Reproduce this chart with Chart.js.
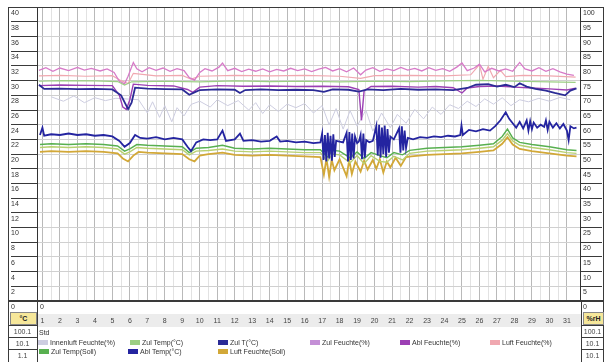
<!DOCTYPE html>
<html><head><meta charset="utf-8">
<script src="https://cdn.jsdelivr.net/npm/chart.js@4/dist/chart.umd.min.js"></script>
<style>
body{margin:0;background:#fff;font-family:"Liberation Sans",Arial,sans-serif;}
#wrap{position:relative;width:607px;height:362px;overflow:hidden;background:#fff}
.abs{position:absolute}
.ln{position:absolute;background:#3a3a3a}
.t{position:absolute;font-size:7px;color:#333;white-space:nowrap;line-height:8px}
.sw{position:absolute;height:5px}
.box{position:absolute;font-size:7px;color:#444;text-align:center;line-height:11px}
</style></head><body>
<div id="wrap">
 <div class="abs" style="left:37px;top:314px;width:544px;height:13px;background:#ececec"></div>
 <canvas id="c" width="607" height="362" class="abs" style="left:0;top:0"></canvas>
 <div id="ov"></div>
</div>
<script>
// ---------- DATA ----------
const dayTicks = [1,2,3,4,5,6,7,8,9,10,11,12,13,14,15,16,17,18,19,20,21,22,23,24,25,26,27,28,29,30,31];
const tempTicks = [0,2,4,6,8,10,12,14,16,18,20,22,24,26,28,30,32,34,36,38,40];
const rhTicks = [0,5,10,15,20,25,30,35,40,45,50,55,60,65,70,75,80,85,90,95,100];
const legendLabels = ["Innenluft Feuchte(%)","Zul Temp(°C)","Zul T(°C)","Zul Feuchte(%)","Abl Feuchte(%)","Luft Feuchte(%)","Zul Temp(Soll)","Abl Temp(°C)","Luft Feuchte(Soll)"];
const sideLabelsLeft = ["°C","100.1","10.1","1.1"];
const sideLabelsRight = ["%rH","100.1","10.1","10.1"];

const rhPink = [[0.8,78.5],[1.2,79.4],[1.6,78.2],[2.0,79.3],[2.5,78.4],[3.0,79.5],[3.4,78.6],[3.8,79.2],[4.3,78.3],[4.7,79.0],[5.1,77.8],[5.4,74.8],[5.7,73.9],[5.9,76.5],[6.2,81.2],[6.4,79.0],[6.7,78.0],[7.1,79.4],[7.5,78.5],[7.9,79.3],[8.3,78.2],[8.7,79.1],[9.1,78.4],[9.4,76.0],[9.7,75.2],[10.0,77.8],[10.3,79.1],[10.7,78.3],[11.1,79.6],[11.3,81.0],[11.6,78.4],[12.0,79.2],[12.4,78.1],[12.8,78.9],[13.2,78.2],[13.6,79.0],[14.0,78.0],[14.4,78.8],[14.8,78.3],[15.2,79.2],[15.6,78.4],[16.0,79.0],[16.4,78.1],[16.8,78.9],[17.2,79.5],[17.6,78.3],[18.0,79.1],[18.4,78.0],[18.8,79.3],[19.2,77.0],[19.5,78.6],[19.9,79.4],[20.3,78.2],[20.7,79.0],[21.1,78.4],[21.5,79.5],[21.9,78.6],[22.3,79.2],[22.7,78.3],[23.1,79.4],[23.5,78.5],[23.9,79.1],[24.3,78.2],[24.7,79.6],[25.0,81.0],[25.3,78.4],[25.7,79.3],[26.0,80.6],[26.3,78.0],[26.7,79.2],[27.1,78.3],[27.5,79.0],[27.9,78.2],[28.3,81.2],[28.6,79.0],[29.0,78.3],[29.4,79.4],[29.8,78.2],[30.2,79.1],[30.6,78.0],[31.0,77.2],[31.4,76.8]];
const rhSalmon = [[0.8,76.6],[2,76.8],[3.5,76.5],[5.0,76.7],[5.5,75.0],[5.9,74.0],[6.2,77.5],[7.5,76.6],[9,76.8],[9.5,75.5],[10,76.5],[12,76.8],[14,76.6],[16,76.8],[18,76.5],[19.2,75.8],[20,76.7],[22,76.8],[24,76.6],[25.5,77.0],[26.0,80.5],[26.2,75.5],[26.5,79.8],[26.8,76.0],[27.2,78.5],[27.5,76.4],[28.5,76.8],[30,76.6],[31.5,76.2]];
const rhGreen = [[0.8,74.8],[2,75.0],[4,74.9],[5.3,74.7],[5.7,73.5],[6.1,74.6],[8,74.8],[10,74.6],[12,74.9],[14,74.7],[16,74.8],[18,74.6],[20,74.8],[22,74.7],[24,74.9],[26,75.1],[28,74.8],[30,74.6],[31.5,74.4]];
const rhPurple = [[0.8,73.3],[2,73.5],[3.5,73.4],[5.0,73.3],[5.4,70.0],[5.6,66.0],[5.8,65.2],[6.0,68.5],[6.2,73.8],[7,73.4],[8.5,73.2],[9.3,72.0],[9.6,71.0],[10,72.8],[11,73.3],[12.5,73.1],[14,73.2],[15.5,73.0],[17,73.1],[18.5,72.9],[19.1,72.0],[19.25,61.5],[19.4,71.5],[19.8,73.0],[21,73.1],[22.5,72.8],[23.5,73.0],[24.5,72.6],[25.0,70.8],[25.3,72.5],[26,73.0],[27,73.2],[28,72.8],[29,72.5],[30,72.2],[31,71.8],[31.5,72.4]];
const rhNavy = [[0.8,73.6],[1.1,72.2],[2,72.3],[3,72.1],[4,72.2],[5,72.0],[5.5,70.0],[5.9,65.3],[6.1,67.5],[6.3,72.6],[7,72.3],[8,72.1],[9.0,72.0],[9.4,70.2],[9.7,71.0],[10,71.8],[11,72.0],[12,71.9],[12.3,70.8],[12.6,71.8],[13.5,72.0],[14.5,71.8],[15.5,71.9],[16.5,71.8],[17.1,71.2],[17.6,72.0],[18.5,71.9],[19.1,71.3],[19.6,72.0],[20.5,71.8],[21.5,72.2],[22.5,71.9],[23.5,72.0],[24.5,71.8],[25.3,72.5],[25.8,73.6],[26.5,73.8],[27.0,73.0],[27.5,73.6],[28.0,72.8],[28.3,74.1],[28.7,73.0],[29.2,72.2],[29.8,71.6],[30.3,70.8],[30.9,70.0],[31.2,71.6],[31.55,72.4]];
const rhOutside = [[1.5,69.5],[2.2,68.0],[2.8,69.8],[3.4,67.5],[4.0,69.2],[4.6,68.2],[5.2,69.0],[6.5,68.5],[7.0,64.0],[7.3,67.8],[7.7,62.5],[8.0,66.5],[8.4,61.0],[8.7,65.8],[9.1,63.0],[9.5,66.9],[10.0,68.0],[10.6,66.0],[11.0,68.5],[11.6,66.5],[12.2,68.2],[12.8,65.0],[13.2,67.5],[13.6,63.8],[14.0,66.8],[14.5,64.5],[15.0,67.0],[15.5,65.8],[16.0,67.2],[16.5,64.0],[17.0,66.5],[17.4,60.0],[17.8,65.5],[18.2,58.5],[18.6,64.8],[19.0,59.5],[19.5,65.0],[19.9,57.8],[20.4,64.0],[20.9,59.0],[21.3,63.5],[21.8,60.5],[22.3,65.2],[22.8,62.0],[23.3,66.0],[23.8,63.5],[24.3,66.8],[24.8,65.5],[25.3,68.0],[25.8,66.2],[26.3,68.8],[26.8,67.0],[27.3,69.2],[27.8,66.5],[28.3,68.5],[28.8,67.8],[29.4,69.0],[30.0,68.0],[30.6,69.3],[31.2,68.5]];
const tNavy = [[0.86,22.6],[1.0,23.6],[1.1,22.5],[1.5,22.7],[2.0,22.6],[2.5,22.8],[3.0,22.6],[3.5,22.7],[4.0,22.5],[4.5,22.6],[5.0,22.4],[5.4,21.8],[5.7,21.0],[6.0,21.5],[6.3,22.6],[6.6,22.2],[7.0,22.1],[7.5,22.3],[8.0,22.0],[8.5,22.2],[9.0,22.0],[9.3,21.0],[9.5,20.4],[9.8,21.6],[10.2,22.0],[10.6,21.9],[11.0,22.0],[11.3,23.2],[11.5,21.8],[12.0,22.0],[12.3,22.8],[12.5,21.8],[13.0,21.9],[13.5,21.7],[14.0,21.8],[14.4,22.4],[14.6,21.7],[15.0,21.8],[15.5,21.6],[16.0,21.7],[16.5,21.5],[16.9,21.6],[17.0,22.8],[17.08,19.2],[17.16,22.6],[17.24,19.0],[17.32,22.9],[17.4,19.4],[17.48,22.5],[17.56,19.1],[17.64,22.7],[17.72,19.6],[17.8,21.8],[18.0,21.7],[18.2,21.6],[18.4,22.9],[18.48,19.0],[18.56,23.0],[18.64,19.2],[18.72,22.8],[18.8,19.4],[18.88,22.4],[19.0,21.5],[19.1,21.7],[19.2,22.6],[19.28,19.3],[19.36,22.8],[19.44,19.5],[19.52,21.9],[19.7,21.6],[19.9,21.8],[20.1,23.8],[20.18,19.8],[20.26,24.0],[20.34,19.5],[20.42,23.6],[20.5,20.0],[20.58,23.9],[20.66,19.6],[20.74,23.4],[20.82,20.2],[20.9,22.4],[21.1,22.0],[21.4,23.5],[21.48,20.2],[21.56,23.8],[21.64,20.5],[21.72,23.2],[21.8,20.8],[21.9,22.2],[22.2,22.0],[22.6,22.3],[23.0,22.2],[23.4,22.4],[23.8,22.3],[24.2,22.5],[24.6,22.4],[24.9,22.6],[24.97,23.9],[25.05,22.6],[25.4,23.3],[25.8,23.1],[26.2,23.4],[26.6,23.2],[26.9,23.8],[27.2,24.6],[27.5,25.7],[27.7,24.8],[27.9,24.2],[28.1,23.6],[28.3,24.4],[28.5,23.5],[28.7,24.6],[28.8,23.2],[28.9,24.5],[29.0,23.4],[29.1,24.3],[29.3,23.6],[29.5,24.0],[29.7,23.7],[29.8,24.6],[29.9,23.3],[30.0,24.4],[30.2,23.6],[30.4,24.2],[30.6,23.5],[30.8,24.1],[31.0,23.2],[31.1,21.9],[31.2,23.8],[31.4,23.5],[31.55,23.6]];
const tGreen = [[0.86,21.3],[1.5,21.4],[2.5,21.3],[3.5,21.4],[4.5,21.3],[5.3,21.1],[5.7,20.4],[6.0,20.7],[6.4,21.3],[7.0,21.2],[8.0,21.1],[9.0,21.0],[9.4,20.2],[9.8,20.8],[10.5,20.9],[11.3,21.2],[12.0,20.8],[13.0,20.7],[14.0,20.8],[15.0,20.7],[16.0,20.6],[16.9,20.6],[17.3,19.6],[17.6,20.5],[18.0,20.4],[18.6,19.5],[19.0,20.3],[19.4,19.4],[19.8,20.2],[20.3,19.8],[20.7,19.5],[21.1,20.2],[21.6,19.9],[22.0,20.5],[23.0,20.8],[24.0,20.9],[25.0,21.0],[26.0,21.2],[26.8,21.4],[27.3,22.4],[27.6,23.4],[27.9,22.2],[28.3,21.6],[29.0,21.3],[30.0,21.0],[31.0,20.6],[31.55,20.5]];
const tLightGreen = [[0.86,20.9],[1.5,21.0],[2.5,20.9],[3.5,21.0],[4.5,20.9],[5.3,20.7],[5.7,20.0],[6.0,20.3],[6.4,20.9],[7.0,20.8],[8.0,20.7],[9.0,20.6],[9.4,19.9],[9.8,20.4],[10.5,20.5],[11.3,20.7],[12.0,20.4],[13.0,20.3],[14.0,20.4],[15.0,20.3],[16.0,20.2],[16.9,20.2],[17.3,19.0],[17.6,20.0],[18.0,19.9],[18.6,18.8],[19.0,19.8],[19.4,18.7],[19.8,19.8],[20.3,19.0],[20.7,18.9],[21.1,19.7],[21.6,19.2],[22.0,20.1],[23.0,20.4],[24.0,20.5],[25.0,20.6],[26.0,20.8],[26.8,21.0],[27.3,21.9],[27.6,22.8],[27.9,21.8],[28.3,21.2],[29.0,20.9],[30.0,20.6],[31.0,20.2],[31.55,20.1]];
const tOlive = [[0.86,20.3],[1.5,20.4],[2.5,20.3],[3.5,20.4],[4.5,20.3],[5.3,20.1],[5.6,19.4],[5.9,19.0],[6.2,19.8],[6.5,20.3],[7.0,20.2],[8.0,20.1],[9.0,20.0],[9.4,19.3],[9.7,19.0],[10.0,19.8],[10.5,20.0],[11.3,20.2],[12.0,19.9],[13.0,19.8],[14.0,19.9],[15.0,19.8],[16.0,19.7],[16.9,19.6],[17.1,17.2],[17.25,19.4],[17.4,16.9],[17.55,19.2],[17.7,17.8],[18.0,19.3],[18.4,17.0],[18.55,19.2],[18.7,17.3],[18.9,19.0],[19.2,17.6],[19.4,19.1],[19.6,17.9],[19.9,19.2],[20.1,18.0],[20.3,19.3],[20.5,17.5],[20.7,19.0],[20.9,18.2],[21.2,19.5],[21.5,18.4],[21.8,19.6],[22.1,19.7],[23.0,19.9],[24.0,20.0],[25.0,20.1],[26.0,20.3],[26.8,20.5],[27.3,21.4],[27.6,22.3],[27.9,21.3],[28.3,20.7],[29.0,20.4],[30.0,20.1],[31.0,19.8],[31.55,19.7]];

// ---------- STYLE ----------
const C = {pink:'#d77bc8',salmon:'#f0a8b0',lgreen:'#9ccf84',purple:'#9c3fb4',navy:'#2b2b96',pale:'#cdcde0',tnavy:'#2424a0',green:'#58b050',tlg:'#b8d070',olive:'#d2a838'};
function ds(data, color, axis, w){return {data, borderColor:color, backgroundColor:color, yAxisID:axis, borderWidth:w, pointRadius:0, tension:0, fill:false};}
const datasets = [
  ds(tNavy, C.tnavy, 'y', 1.8),
  ds(rhNavy, C.navy, 'y1', 1.8),
  ds(rhPurple, C.purple, 'y1', 1.4),
  ds(tGreen, C.green, 'y', 1.4),
  ds(tLightGreen, C.tlg, 'y', 1.4),
  ds(tOlive, C.olive, 'y', 1.8),
  ds(rhGreen, C.lgreen, 'y1', 1.2),
  ds(rhPink, C.pink, 'y1', 1.3),
  ds(rhSalmon, C.salmon, 'y1', 1.2),
  ds(rhOutside, C.pale, 'y1', 1)
];
const legendColors = [C.pale, C.lgreen, C.navy, '#c48fd6', C.purple, C.salmon, C.green, C.tnavy, C.olive];

const halfTicks = [];
dayTicks.forEach(d => { halfTicks.push(d); halfTicks.push(d + 0.5); });
halfTicks.pop();

new Chart(document.getElementById('c'), {
  type: 'line',
  data: { datasets },
  options: {
    animation: false, responsive: false, maintainAspectRatio: false,
    layout: { padding: { left: 11, right: 5, top: 7, bottom: 31 } },
    plugins: { legend: { display: false }, tooltip: { enabled: false } },
    scales: {
      x: {
        type: 'linear', min: 0.69, max: 31.75,
        afterBuildTicks: s => { s.ticks = halfTicks.map(v => ({ value: v })); },
        afterFit: s => { s.height = 30; },
        ticks: { autoSkip: false, maxRotation: 0, padding: 16, font: { size: 7, family: 'Liberation Sans' }, color: '#444',
                 callback: v => dayTicks.includes(v) ? String(v) : '' },
        grid: { drawTicks: false, color: ctx => (ctx.tick && Number.isInteger(ctx.tick.value)) ? '#b9b9b9' : '#e2e2e2' },
        border: { display: true, color: '#333', width: 2 }
      },
      y: {
        position: 'left', min: 0, max: 40,
        afterBuildTicks: s => { s.ticks = tempTicks.map(v => ({ value: v })); },
        afterFit: s => { s.width = 26; },
        ticks: { autoSkip: false, crossAlign: 'far', labelOffset: 6, font: { size: 7, family: 'Liberation Sans' }, color: '#333' },
        grid: { color: '#d0d0d0', tickColor: '#3a3a3a', tickLength: 26 },
        border: { display: true, color: '#333' }
      },
      y1: {
        position: 'right', min: 0, max: 100,
        afterBuildTicks: s => { s.ticks = rhTicks.map(v => ({ value: v })); },
        afterFit: s => { s.width = 22; },
        ticks: { autoSkip: false, padding: -19, labelOffset: 6, font: { size: 7, family: 'Liberation Sans' }, color: '#333' },
        grid: { drawOnChartArea: false, tickColor: '#3a3a3a', tickLength: 22 },
        border: { display: true, color: '#333' }
      }
    }
  }
});

// ---------- FRAME, SIDE BOXES, LEGEND ----------
const ov = document.getElementById('ov');
function add(html){ ov.insertAdjacentHTML('beforeend', html); }
function line(x,y,w,h,c){ add(`<div class="ln" style="left:${x}px;top:${y}px;width:${w}px;height:${h}px;background:${c||'#3a3a3a'}"></div>`); }
line(8,7,596,1); line(8,300,596,2);
line(8,7,1,355); line(37,300,1,62); line(581,300,1,62); line(603,7,1,355);
const boxYs = [312,326,338,350];
sideLabelsLeft.forEach((t,i) => {
  const y = boxYs[i];
  const yellow = i === 0;
  add(`<div class="box" style="left:10px;top:${y}px;width:25px;height:11px;${yellow?'background:#f6e79a;border:1px solid #888;color:#222;font-weight:bold;':''}">${t}</div>`);
  if(!yellow) line(8, y-1, 30, 1);
});
sideLabelsRight.forEach((t,i) => {
  const y = boxYs[i];
  const yellow = i === 0;
  add(`<div class="box" style="left:583px;top:${y}px;width:19px;height:11px;${yellow?'background:#f6e79a;border:1px solid #888;color:#222;font-weight:bold;':''}">${t}</div>`);
  if(!yellow) line(581, y-1, 23, 1);
});
add(`<div class="t" style="left:40px;top:303px">0</div>`);
add(`<div class="t" style="left:39px;top:329px">Std</div>`);
const legPos = [[38,339],[130,339],[218,339],[310,339],[400,339],[490,339],[39,348],[128,348],[218,348]];
legendLabels.forEach((lab,i) => {
  const [x,y] = legPos[i];
  add(`<div class="sw" style="left:${x}px;top:${y+1}px;width:10px;background:${legendColors[i]}"></div>`);
  add(`<div class="t" style="left:${x+12}px;top:${y}px">${lab}</div>`);
});
</script>
</body></html>
